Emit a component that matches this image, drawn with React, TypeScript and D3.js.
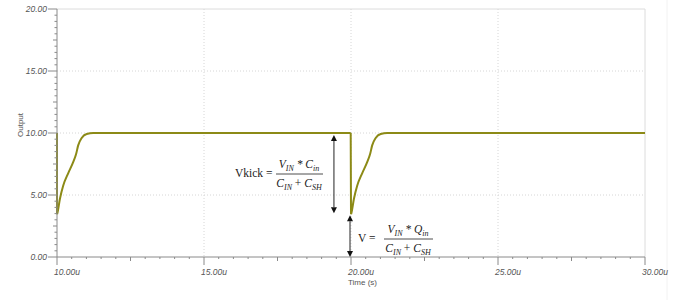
import React from "react";
import * as d3 from "d3";

// ---- data (time in µs, output in V) ----
const timeUs: number[] = [
  10.0, 10.0, 10.01, 10.1, 10.21, 10.38, 10.55, 10.65, 10.72, 10.84, 11.01, 11.23, 12.0,
  19.99, 20.0, 20.01, 20.1, 20.21, 20.38, 20.55, 20.65, 20.72, 20.84, 21.01, 21.23, 22.0, 30.0,
];
const outputV: number[] = [
  10.0, 3.45, 3.52, 4.7, 5.75, 6.75, 7.65, 8.3, 9.0, 9.6, 9.92, 10.0, 10.0,
  10.0, 3.45, 3.52, 4.7, 5.75, 6.75, 7.65, 8.3, 9.0, 9.6, 9.92, 10.0, 10.0, 10.0,
];
const xMajorTicks: number[] = [10, 15, 20, 25, 30];
const xTickLabels: string[] = ["10.00u", "15.00u", "20.00u", "25.00u", "30.00u"];
const yMajorTicks: number[] = [0, 5, 10, 15, 20];
const yTickLabels: string[] = ["0.00", "5.00", "10.00", "15.00", "20.00"];
const xGrid: number[] = [15, 20, 25];
const yGrid: number[] = [5, 10, 15];
const kickTime = 19.42;
const highLevel = 10;
const lowLevel = 3.45;
const dropTime = 20;

const W = 690;
const H = 308;
const left = 57;
const right = 645;
const top = 9;
const bottom = 257;

const LINE = "#8c8a16";
const AXIS = "#8a8a8a";
const TXT = "#555";
const GRID = "#d6d6d6";

function Arrow({ x, y1, y2 }: { x: number; y1: number; y2: number }) {
  const h = 6;
  const w = 3;
  return (
    <g>
      <line x1={x} x2={x} y1={y1 + h} y2={y2 - h} stroke="#222" strokeWidth={1} />
      <path d={`M${x},${y1} L${x - w},${y1 + h} L${x + w},${y1 + h} Z`} fill="#111" />
      <path d={`M${x},${y2} L${x - w},${y2 - h} L${x + w},${y2 - h} Z`} fill="#111" />
    </g>
  );
}

const SERIF = "'Liberation Serif', 'DejaVu Serif', serif";

function Sub({ base, sub }: { base: string; sub: string }) {
  return (
    <>
      <tspan>{base}</tspan>
      <tspan fontSize={8} baselineShift="-2.5">{sub}</tspan>
    </>
  );
}

export default function App() {
  const x = d3.scaleLinear().domain([10, 30]).range([left, right]);
  const y = d3.scaleLinear().domain([0, 20]).range([bottom, top]);

  const xMinor = d3.range(10, 30.001, 0.5);
  const yMinor = d3.range(0, 20.001, 0.5);

  const idx = d3.range(timeUs.length);
  const curveSeg = (from: number, to: number) =>
    d3
      .line<number>()
      .x((i) => x(timeUs[i]))
      .y((i) => y(outputV[i]))
      .curve(d3.curveMonotoneX)(idx.slice(from, to)) || "";
  const straight = (ids: number[]) =>
    d3
      .line<number>()
      .x((i) => x(timeUs[i]))
      .y((i) => y(outputV[i]))(ids) || "";

  const pathD = straight([0, 1]) + curveSeg(1, 14) + straight([13, 14]) + curveSeg(14, timeUs.length);

  return (
    <svg
      width={W}
      height={H}
      style={{ position: "absolute", left: 0, top: 0, background: "#fff" }}
      fontFamily="'Liberation Sans', Arial, sans-serif"
    >
      <rect width={W} height={H} fill="#fff" />
      <line x1={667} x2={667} y1={0} y2={300} stroke="#f2f2f2" />
      {/* frame */}
      <line x1={left} x2={right} y1={top} y2={top} stroke="#dcdcdc" />
      <line x1={right} x2={right} y1={top} y2={bottom} stroke="#dcdcdc" />
      {/* grid */}
      {xGrid.map((t) => (
        <line key={"gx" + t} x1={x(t)} x2={x(t)} y1={top} y2={bottom} stroke={GRID} strokeDasharray="1,2" />
      ))}
      {yGrid.map((v) => (
        <line key={"gy" + v} x1={left} x2={right} y1={y(v)} y2={y(v)} stroke={GRID} strokeDasharray="1,2" />
      ))}
      {/* series */}
      <path d={pathD} fill="none" stroke={LINE} strokeWidth={2} strokeLinejoin="round" />
      {/* axes */}
      <line x1={left} x2={left} y1={top} y2={bottom} stroke={AXIS} />
      <line x1={left} x2={right} y1={bottom} y2={bottom} stroke={AXIS} />
      {yMinor.map((v) => (
        <line key={"ym" + v} x1={left - (v % 5 === 0 ? 9 : v % 2.5 === 0 ? 4 : 2.5)} x2={left} y1={y(v)} y2={y(v)} stroke={AXIS} />
      ))}
      {xMinor.map((t) => (
        <line key={"xm" + t} x1={x(t)} x2={x(t)} y1={bottom} y2={bottom + ((t - 10) % 5 === 0 ? 8 : (t - 10) % 2.5 === 0 ? 4 : 2)} stroke={AXIS} />
      ))}
      {yMajorTicks.map((v, i) => (
        <text key={"yl" + v} x={47} y={y(v)} dy="0.35em" textAnchor="end" fontSize={8.5} fontStyle="italic" fill={TXT}>
          {yTickLabels[i]}
        </text>
      ))}
      {xMajorTicks.map((t, i) => (
        <text key={"xl" + t} x={x(t) - 3} y={275} fontSize={8.5} fontStyle="italic" fill={TXT}>
          {xTickLabels[i]}
        </text>
      ))}
      <text x={x(20) - 3} y={285} fontSize={8} fill={TXT}>Time (s)</text>
      <text transform={`translate(23,125) rotate(-90)`} textAnchor="middle" fontSize={8} fill={TXT}>Output</text>

      {/* annotations */}
      <Arrow x={x(kickTime)} y1={y(highLevel) + 2} y2={y(lowLevel) - 1} />
      <Arrow x={x(dropTime) - 1} y1={y(lowLevel) + 1} y2={bottom} />

      <g fontFamily={SERIF} fill="#222">
        <text x={235} y={177} fontSize={11.5}>Vkick =</text>
        <text x={299} y={168} fontSize={11.5} fontStyle="italic" textAnchor="middle">
          <Sub base="V" sub="IN" /><tspan> * </tspan><Sub base="C" sub="in" />
        </text>
        <line x1={276} x2={323} y1={174} y2={174} stroke="#222" strokeWidth={0.8} />
        <text x={299} y={187} fontSize={11.5} fontStyle="italic" textAnchor="middle">
          <Sub base="C" sub="IN" /><tspan fontStyle="normal"> + </tspan><Sub base="C" sub="SH" />
        </text>

        <text x={358} y={242} fontSize={11.5}>V =</text>
        <text x={408} y={233} fontSize={11.5} fontStyle="italic" textAnchor="middle">
          <Sub base="V" sub="IN" /><tspan> * </tspan><Sub base="Q" sub="in" />
        </text>
        <line x1={384} x2={433} y1={239} y2={239} stroke="#222" strokeWidth={0.8} />
        <text x={408} y={252} fontSize={11.5} fontStyle="italic" textAnchor="middle">
          <Sub base="C" sub="IN" /><tspan fontStyle="normal"> + </tspan><Sub base="C" sub="SH" />
        </text>
      </g>
    </svg>
  );
}
